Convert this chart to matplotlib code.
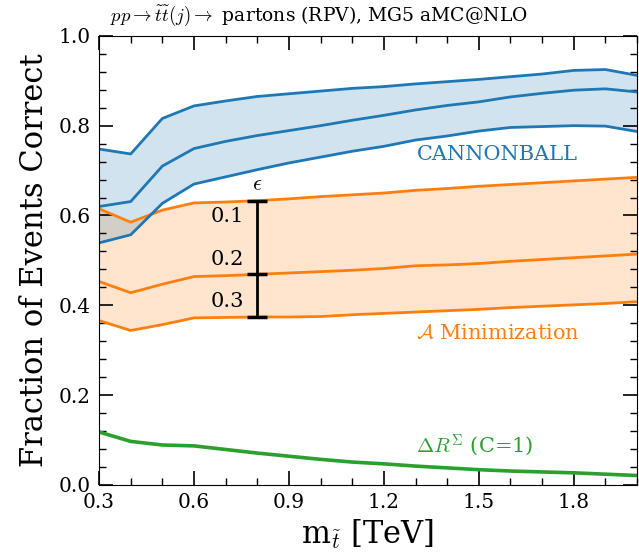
import matplotlib
matplotlib.use("Agg")
import matplotlib.pyplot as plt
from matplotlib.ticker import AutoMinorLocator, MultipleLocator, FormatStrFormatter

plt.rcParams['font.family'] = ['DejaVu Serif']
plt.rcParams['mathtext.fontset'] = 'cm'

mass = [0.3, 0.4, 0.5, 0.6, 0.7, 0.8, 0.9, 1.0, 1.1, 1.2, 1.3, 1.4, 1.5, 1.6, 1.7, 1.8, 1.9, 2.0]

cannon_hi = [0.748, 0.737, 0.816, 0.844, 0.855, 0.865, 0.871, 0.877, 0.883, 0.887, 0.893, 0.898, 0.903, 0.909, 0.915, 0.923, 0.925, 0.912]
cannon_mid = [0.620, 0.631, 0.710, 0.749, 0.765, 0.778, 0.789, 0.800, 0.812, 0.823, 0.835, 0.845, 0.853, 0.864, 0.872, 0.879, 0.882, 0.875]
cannon_lo = [0.539, 0.557, 0.627, 0.670, 0.686, 0.702, 0.717, 0.730, 0.743, 0.754, 0.768, 0.777, 0.788, 0.796, 0.798, 0.800, 0.799, 0.787]

amin_hi = [0.615, 0.585, 0.612, 0.628, 0.630, 0.633, 0.637, 0.642, 0.646, 0.650, 0.656, 0.660, 0.665, 0.669, 0.673, 0.677, 0.681, 0.685]
amin_mid = [0.453, 0.428, 0.447, 0.464, 0.466, 0.469, 0.472, 0.475, 0.478, 0.482, 0.488, 0.490, 0.493, 0.498, 0.502, 0.506, 0.510, 0.514]
amin_lo = [0.366, 0.344, 0.357, 0.372, 0.373, 0.374, 0.374, 0.375, 0.379, 0.382, 0.385, 0.388, 0.391, 0.395, 0.398, 0.401, 0.404, 0.408]

dr_sigma = [0.118, 0.097, 0.089, 0.087, 0.079, 0.071, 0.064, 0.057, 0.051, 0.047, 0.042, 0.038, 0.034, 0.031, 0.029, 0.027, 0.024, 0.021]

eps_labels = ['0.1', '0.2', '0.3']
eps_mass = 0.8

blue = '#1f77b4'
orange = '#ff7f0e'
green = '#2ca02c'

fig = plt.figure(figsize=(6.39, 5.60), dpi=100)
ax = fig.add_axes([0.155, 0.134, 0.842, 0.802])

# A minimization band
ax.fill_between(mass, amin_lo, amin_hi, color=orange, alpha=0.2, lw=0)
for s in (amin_hi, amin_mid, amin_lo):
    ax.plot(mass, s, color=orange, lw=2)

# Cannonball band
ax.fill_between(mass, cannon_lo, cannon_hi, color=blue, alpha=0.2, lw=0)
for s in (cannon_hi, cannon_mid, cannon_lo):
    ax.plot(mass, s, color=blue, lw=2)

# Delta R sigma
ax.plot(mass, dr_sigma, color=green, lw=2.6)

# epsilon bar
i = mass.index(eps_mass)
ys = [amin_hi[i], amin_mid[i], amin_lo[i]]
ax.plot([eps_mass] * 3, ys, color='k', lw=2, marker='_', markersize=14, mew=2.5)
ax.text(eps_mass, amin_hi[i] + 0.012, r'$\epsilon$', ha='center', va='bottom', fontsize=16)
lab_y = [0.598, 0.503, 0.408]
for t, y in zip(eps_labels, lab_y):
    ax.text(0.758, y, t, ha='right', va='center', fontsize=15)

ax.text(1.303, 0.736, 'CANNONBALL', color=blue, fontsize=15, va='center', ha='left')
ax.text(1.303, 0.338, r'$\mathcal{A}$ Minimization', color=orange, fontsize=15, va='center', ha='left')
ax.text(1.303, 0.087, r'$\Delta R^{\Sigma}$ (C=1)', color=green, fontsize=15, va='center', ha='left')

ax.set_xlim(0.3, 2.0)
ax.set_ylim(0.0, 1.0)
ax.xaxis.set_major_locator(MultipleLocator(0.3))
ax.xaxis.set_minor_locator(AutoMinorLocator(3))
ax.yaxis.set_major_locator(MultipleLocator(0.2))
ax.yaxis.set_minor_locator(AutoMinorLocator(5))
ax.xaxis.set_major_formatter(FormatStrFormatter('%.1f'))
ax.yaxis.set_major_formatter(FormatStrFormatter('%.1f'))
ax.tick_params(which='both', direction='in', top=True, right=True, labelsize=14.5)
ax.tick_params(which='major', length=10, width=1.2, pad=6)
ax.tick_params(which='minor', length=5, width=1.0)

ax.set_xlabel(r'm$_{\tilde{t}}$ [TeV]', fontsize=22, labelpad=4)
ax.set_ylabel('Fraction of Events Correct', fontsize=22, labelpad=6)

fig.text(0.5, 0.971, r'$pp \rightarrow \tilde{t}\tilde{t}(j) \rightarrow$ partons (RPV), MG5 aMC@NLO',
         ha='center', va='center', fontsize=13.5)

fig.savefig('out.png', dpi=100)
